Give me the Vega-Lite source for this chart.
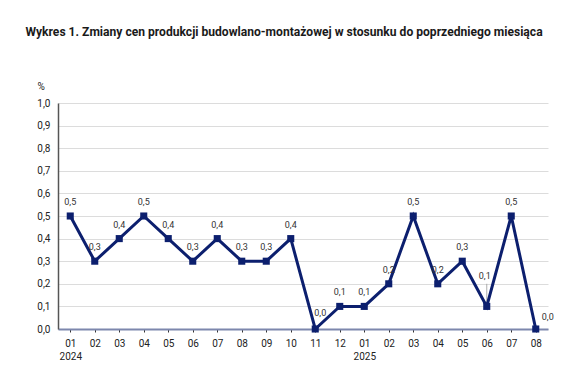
{
  "$schema": "https://vega.github.io/schema/vega-lite/v6.json",
  "width": 490,
  "height": 226,
  "autosize": "none",
  "padding": {"left": 58, "top": 103, "right": 25, "bottom": 62},
  "background": "white",
  "title": {
    "text": "Wykres 1. Zmiany cen produkcji budowlano-montażowej w stosunku do poprzedniego miesiąca",
    "font": "Roboto",
    "fontSize": 12.1,
    "fontWeight": "bold",
    "color": "#1a1a1a",
    "anchor": "middle",
    "offset": 43,
    "dx": -19
  },
  "config": {
    "locale": {"number": {"decimal": ",", "thousands": " ", "grouping": [3], "currency": ["", " zł"]}},
    "view": {"stroke": null},
    "font": "Roboto"
  },
  "data": {
    "values": [
      {"t": "2024-01", "v": 0.5},
      {"t": "2024-02", "v": 0.3},
      {"t": "2024-03", "v": 0.4},
      {"t": "2024-04", "v": 0.5},
      {"t": "2024-05", "v": 0.4},
      {"t": "2024-06", "v": 0.3},
      {"t": "2024-07", "v": 0.4},
      {"t": "2024-08", "v": 0.3},
      {"t": "2024-09", "v": 0.3},
      {"t": "2024-10", "v": 0.4},
      {"t": "2024-11", "v": 0.0},
      {"t": "2024-12", "v": 0.1},
      {"t": "2025-01", "v": 0.1},
      {"t": "2025-02", "v": 0.2},
      {"t": "2025-03", "v": 0.5},
      {"t": "2025-04", "v": 0.2},
      {"t": "2025-05", "v": 0.3},
      {"t": "2025-06", "v": 0.1},
      {"t": "2025-07", "v": 0.5},
      {"t": "2025-08", "v": 0.0}
    ]
  },
  "encoding": {
    "x": {
      "field": "t",
      "type": "ordinal",
      "scale": {"type": "point", "padding": 0.5},
      "axis": {
        "title": null,
        "labelAngle": 0,
        "labelExpr": "split(datum.value,'-')[1] == '01' ? [split(datum.value,'-')[1], split(datum.value,'-')[0]] : split(datum.value,'-')[1]",
        "labelFontSize": 10,
        "labelColor": "#222222",
        "labelPadding": 6,
        "labelLineHeight": 13,
        "domainColor": "#7d87ad",
        "domainWidth": 2,
        "tickColor": "#333333",
        "tickSize": 3,
        "tickWidth": 1,
        "grid": false
      }
    },
    "y": {
      "field": "v",
      "type": "quantitative",
      "scale": {"domain": [0, 1], "nice": false},
      "axis": {
        "values": [0, 0.1, 0.2, 0.3, 0.4, 0.5, 0.6, 0.7, 0.8, 0.9, 1.0],
        "format": ".1f",
        "title": "%",
        "titleAngle": 0,
        "titleFontWeight": "normal",
        "titleFontSize": 10,
        "titleColor": "#222222",
        "titleAlign": "left",
        "titleX": -21,
        "titleY": -12,
        "labelFontSize": 10,
        "labelColor": "#222222",
        "labelPadding": 8,
        "ticks": false,
        "domainColor": "#555555",
        "domainWidth": 1.5,
        "gridColor": "#dcdcdc",
        "gridWidth": 1
      }
    }
  },
  "layer": [
    {
      "transform": [{"filter": "datum.t == '2025-06'"}],
      "mark": {"type": "rule", "color": "#999999", "strokeWidth": 0.8},
      "encoding": {"y2": {"datum": 0.2}}
    },
    {"mark": {"type": "line", "color": "#0c1f6e", "strokeWidth": 3}},
    {"mark": {"type": "point", "shape": "square", "filled": true, "size": 50, "color": "#0c1f6e", "opacity": 1}},
    {
      "transform": [{"filter": "indexof(['2024-11','2025-08','2025-06'], datum.t) < 0"}],
      "mark": {"type": "text", "dy": -14, "fontSize": 9, "color": "#333333"},
      "encoding": {"text": {"field": "v", "type": "quantitative", "format": ".1f"}}
    },
    {
      "transform": [{"filter": "datum.t == '2024-11'"}],
      "mark": {"type": "text", "dy": -16, "dx": 5, "fontSize": 9, "color": "#333333"},
      "encoding": {"text": {"field": "v", "type": "quantitative", "format": ".1f"}}
    },
    {
      "transform": [{"filter": "datum.t == '2025-08'"}],
      "mark": {"type": "text", "dy": -12, "dx": 12, "fontSize": 9, "color": "#333333"},
      "encoding": {"text": {"field": "v", "type": "quantitative", "format": ".1f"}}
    },
    {
      "transform": [{"filter": "datum.t == '2025-06'"}],
      "mark": {"type": "text", "dy": -30, "dx": -2, "fontSize": 9, "color": "#333333"},
      "encoding": {"text": {"field": "v", "type": "quantitative", "format": ".1f"}}
    }
  ]
}
